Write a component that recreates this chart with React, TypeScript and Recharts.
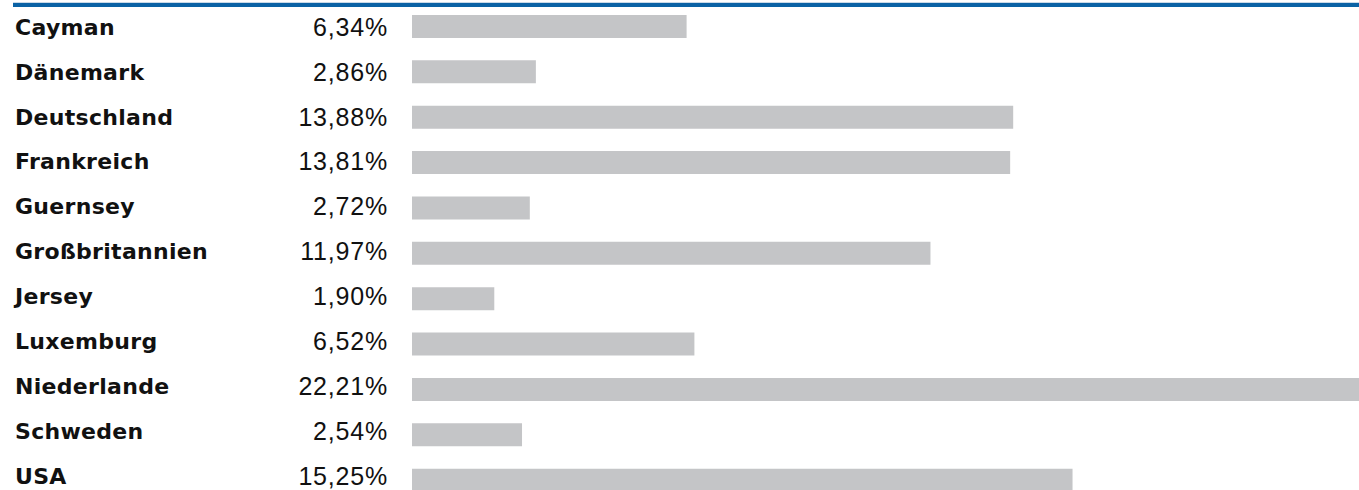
import React from 'react';
import { BarChart, Bar, XAxis, YAxis } from 'recharts';

const countries = [
  'Cayman',
  'Dänemark',
  'Deutschland',
  'Frankreich',
  'Guernsey',
  'Großbritannien',
  'Jersey',
  'Luxemburg',
  'Niederlande',
  'Schweden',
  'USA'
];

const shares = [6.34, 2.86, 13.88, 13.81, 2.72, 11.97, 1.9, 6.52, 22.21, 2.54, 15.25];

const data = countries.map((name, i) => ({ name, share: shares[i] }));

const fmt = (v: number) => v.toFixed(2).replace('.', ',') + '%';

// label rows sit a little tighter than the bars
const CountryTick = (props: any) => {
  const { y, payload, index } = props;
  const shift = -0.45 * index;
  return (
    <g>
      <text
        x={15}
        y={y + 8 + shift}
        fontFamily="DejaVu Sans, sans-serif"
        fontWeight="bold"
        fontSize={22}
        letterSpacing={0.3}
        fill="#111"
      >
        {payload.value}
      </text>
      <text
        x={388}
        y={y + 9 + shift}
        textAnchor="end"
        fontFamily="Liberation Sans, Arial, sans-serif"
        fontSize={25}
        letterSpacing={0.8}
        fill="#111"
      >
        {fmt(shares[index])}
      </text>
    </g>
  );
};

export default function App() {
  return (
    <div
      style={{
        position: 'fixed',
        top: 0,
        left: 0,
        width: 1359,
        height: 490,
        overflow: 'hidden',
        background: '#fff'
      }}
    >
      <div style={{ position: 'absolute', left: 13, right: 0, top: 2, height: 1, background: '#c9d9e8' }} />
      <div style={{ position: 'absolute', left: 13, right: 0, top: 3, height: 4, background: '#0a62a5' }} />
      <BarChart
        width={1374}
        height={503}
        data={data}
        layout="vertical"
        margin={{ top: 4, right: 0, bottom: 0, left: 0 }}
      >
        <XAxis type="number" hide domain={[0, 'dataMax']} />
        <YAxis
          type="category"
          dataKey="name"
          width={412}
          axisLine={false}
          tickLine={false}
          interval={0}
          tick={<CountryTick />}
        />
        <Bar dataKey="share" fill="#c4c5c7" barSize={23} isAnimationActive={false} />
      </BarChart>
    </div>
  );
}
